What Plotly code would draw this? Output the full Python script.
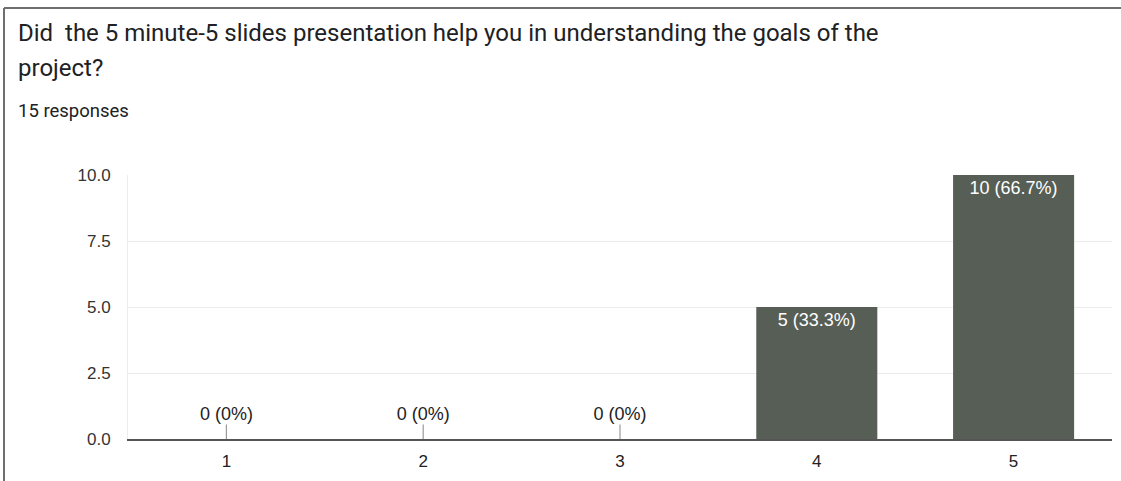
import plotly.graph_objects as go

categories = ["1", "2", "3", "4", "5"]
counts = [0, 0, 0, 5, 10]
labels = ["0 (0%)", "0 (0%)", "0 (0%)", "5 (33.3%)", "10 (66.7%)"]
y_ticks = [0.0, 2.5, 5.0, 7.5, 10.0]
y_tick_text = ["0.0", "2.5", "5.0", "7.5", "10.0"]

W, H = 1121, 481
L, R, T, B = 128, 9, 175, 42
BAR = "#575e55"
STUB = 0.55

xs = [int(c) for c in categories]

inside_text = [t if v > 0 else "" for v, t in zip(counts, labels)]
zero_x = [x for x, v in zip(xs, counts) if v == 0]
zero_text = [t for v, t in zip(counts, labels) if v == 0]

fig = go.Figure()
fig.add_trace(go.Bar(
    x=xs, y=counts, width=0.615,
    marker=dict(color=BAR, line=dict(width=0)),
    text=inside_text, textposition="inside", insidetextanchor="end",
    textfont=dict(family="Liberation Sans, Arial", size=18, color="white"),
    error_y=dict(type="data", symmetric=False,
                 array=[STUB if v == 0 else 0 for v in counts],
                 arrayminus=[0] * len(counts),
                 color="#9a9a9a", thickness=1.2, width=0),
    hoverinfo="skip", cliponaxis=False,
))
fig.add_trace(go.Scatter(
    x=zero_x, y=[STUB] * len(zero_x), mode="text", text=zero_text,
    textposition="top center",
    textfont=dict(family="Liberation Sans, Arial", size=18, color="#222222"),
    hoverinfo="skip", cliponaxis=False,
))

def px_x(p):
    return (p - L) / (W - L - R)

def px_y(p):
    return (H - B - p) / (H - T - B)

fig.add_shape(type="line", xref="paper", yref="paper",
              x0=px_x(4), x1=px_x(W), y0=px_y(8), y1=px_y(8),
              line=dict(color="#6e6e6e", width=2))
fig.add_shape(type="line", xref="paper", yref="paper",
              x0=px_x(4), x1=px_x(4), y0=px_y(8), y1=px_y(H),
              line=dict(color="#6e6e6e", width=2))

title_font = dict(family="Roboto", size=24, color="#202124")
fig.add_annotation(xref="paper", yref="paper", x=px_x(16), y=px_y(33),
                   xanchor="left", yanchor="middle", showarrow=False,
                   text="Did  the 5 minute-5 slides presentation help you in understanding the goals of the",
                   font=title_font)
fig.add_annotation(xref="paper", yref="paper", x=px_x(16), y=px_y(68),
                   xanchor="left", yanchor="middle", showarrow=False,
                   text="project?", font=title_font)
fig.add_annotation(xref="paper", yref="paper", x=px_x(16), y=px_y(111),
                   xanchor="left", yanchor="middle", showarrow=False,
                   text="15 responses",
                   font=dict(family="Roboto", size=18.5, color="#202124"))

fig.update_layout(
    width=W, height=H, autosize=False,
    margin=dict(l=L, r=R, t=T, b=B, pad=0),
    paper_bgcolor="white", plot_bgcolor="white",
    showlegend=False,
    xaxis=dict(range=[0.5, 5.5], tickmode="array", tickvals=xs, ticktext=categories,
               showgrid=False, zeroline=False, showline=True, linecolor="#555555",
               linewidth=1.5, ticks="", ticklabelstandoff=6,
               tickfont=dict(family="Liberation Sans, Arial", size=17, color="#222222"),
               fixedrange=True),
    yaxis=dict(range=[0, 10], tickmode="array", tickvals=y_ticks, ticktext=y_tick_text,
               showgrid=True, gridcolor="#ececec", gridwidth=1,
               zeroline=False, showline=True, linecolor="#ececec", linewidth=1,
               ticks="", ticklabelstandoff=13,
               tickfont=dict(family="Liberation Sans, Arial", size=17, color="#333333"),
               fixedrange=True),
)

fig.write_html("out.html", config={"displayModeBar": False},
               post_script="document.body.style.margin='0';document.body.style.overflow='hidden';")
